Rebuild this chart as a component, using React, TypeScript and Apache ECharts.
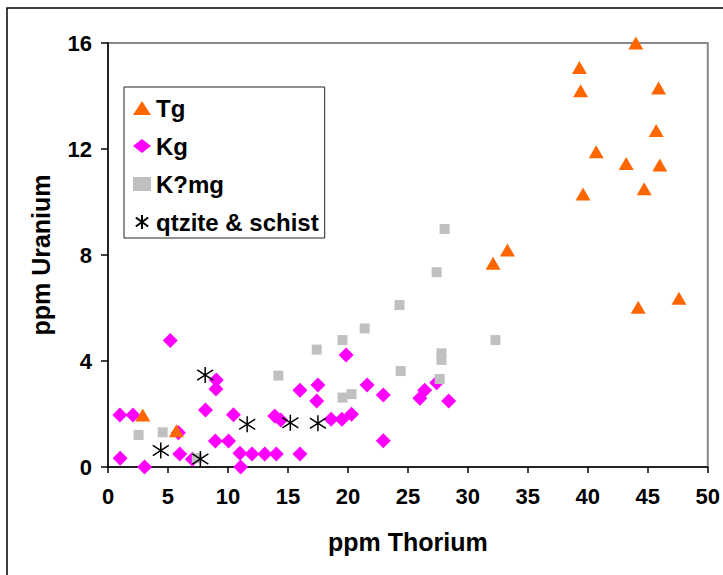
import React, { useEffect, useRef } from "react";
import * as echarts from "echarts";

const seriesNames = ["Tg", "Kg", "K?mg", "qtzite & schist"];

const tgData: [number, number][] = [
  [44.0, 16.0], [39.3, 15.08], [39.4, 14.2], [45.9, 14.3], [45.7, 12.7],
  [40.7, 11.9], [43.2, 11.45], [46.0, 11.4], [44.7, 10.5], [39.6, 10.3],
  [33.3, 8.19], [32.1, 7.69], [47.6, 6.37], [44.2, 6.03], [2.9, 1.96], [5.7, 1.37],
];

const kgData: [number, number][] = [
  [5.19, 4.77], [0.99, 1.96], [2.08, 1.96], [1.01, 0.33], [3.05, 0.0],
  [5.87, 1.29], [5.98, 0.49], [7.03, 0.29], [8.13, 2.15], [9.03, 3.28],
  [9.0, 2.94], [8.95, 0.98], [10.05, 0.98], [10.46, 1.97], [11.0, 0.52],
  [11.06, 0.0], [12.0, 0.49], [13.07, 0.49], [14.03, 0.49], [13.9, 1.92],
  [14.4, 1.77], [16.0, 2.9], [16.0, 0.49], [17.5, 3.09], [17.4, 2.49],
  [18.6, 1.8], [19.5, 1.8], [20.3, 1.99], [19.85, 4.23], [21.6, 3.09],
  [22.95, 2.72], [22.95, 0.99], [26.4, 2.9], [26.0, 2.59], [27.4, 3.18],
  [28.4, 2.49],
];

const kmgData: [number, number][] = [
  [2.55, 1.21], [4.56, 1.31], [7.4, 0.33], [14.2, 3.45], [17.4, 4.43],
  [19.55, 4.79], [19.55, 2.62], [20.3, 2.75], [21.4, 5.23], [24.3, 6.11],
  [24.4, 3.62], [27.4, 7.35], [28.06, 8.98], [27.8, 4.29], [27.8, 4.04],
  [27.65, 3.32], [32.3, 4.79],
];

const qsData: [number, number][] = [
  [4.4, 0.62], [7.7, 0.3], [8.1, 3.47], [11.6, 1.61], [15.2, 1.67], [17.5, 1.65],
];

const xMin = 0;
const xMax = 50;
const xStep = 5;
const yMin = 0;
const yMax = 16;
const yStep = 4;

const FONT = "'Liberation Sans', Arial, sans-serif";
const STAR = "path://M5,0L5,10M0.6,1.8L9.4,8.2M0.6,8.2L9.4,1.8";

export default function App() {
  const ref = useRef<HTMLDivElement>(null);
  useEffect(() => {
    if (!ref.current) return;
    const chart = echarts.init(ref.current, null, { renderer: "svg" });
    chart.setOption({
      animation: false,
      backgroundColor: "#ffffff",
      textStyle: { fontFamily: FONT },
      graphic: [
        {
          type: "rect",
          shape: { x: 7, y: 8, width: 900, height: 900 },
          style: { fill: "none", stroke: "#000", lineWidth: 1.5 },
          silent: true,
          z: 0,
        },
      ],
      grid: {
        left: 108,
        top: 43,
        right: 8,
        bottom: 108,
        show: true,
        borderColor: "#888888",
        borderWidth: 2,
        backgroundColor: "transparent",
      },
      legend: {
        orient: "vertical",
        left: 124,
        top: 87,
        data: seriesNames,
        itemWidth: 18,
        itemHeight: 14,
        itemGap: 14,
        padding: [9, 6, 4, 9],
        borderColor: "#222",
        borderWidth: 1,
        backgroundColor: "#fff",
        textStyle: { fontFamily: FONT, fontWeight: "bold", fontSize: 24, color: "#000" },
      },
      xAxis: {
        type: "value",
        min: xMin,
        max: xMax,
        interval: xStep,
        name: "ppm Thorium",
        nameLocation: "middle",
        nameGap: 62,
        nameTextStyle: { fontFamily: FONT, fontWeight: "bold", fontSize: 25, color: "#000" },
        axisLine: { show: true, onZero: false, lineStyle: { color: "#000", width: 1.5 } },
        axisTick: { show: true, inside: false, length: 6, lineStyle: { color: "#000", width: 1.5 } },
        axisLabel: { margin: 18, fontFamily: FONT, fontWeight: "bold", fontSize: 22, color: "#000" },
        splitLine: { show: false },
      },
      yAxis: {
        type: "value",
        min: yMin,
        max: yMax,
        interval: yStep,
        name: "ppm Uranium",
        nameLocation: "middle",
        nameGap: 55,
        nameRotate: 90,
        nameTextStyle: { fontFamily: FONT, fontWeight: "bold", fontSize: 25, color: "#000" },
        axisLine: { show: true, onZero: false, lineStyle: { color: "#000", width: 1.5 } },
        axisTick: { show: true, inside: false, length: 7, lineStyle: { color: "#000", width: 1.5 } },
        axisLabel: { margin: 16, fontFamily: FONT, fontWeight: "bold", fontSize: 22, color: "#000" },
        splitLine: { show: false },
      },
      series: [
        {
          name: "Kg",
          type: "scatter",
          data: kgData,
          symbol: "diamond",
          symbolSize: 15,
          itemStyle: { color: "#FF00FF", opacity: 1 },
          z: 2,
        },
        {
          name: "Tg",
          type: "scatter",
          data: tgData,
          symbol: "triangle",
          symbolSize: [15, 13],
          itemStyle: { color: "#FF6600", opacity: 1 },
          z: 3,
        },
        {
          name: "K?mg",
          type: "scatter",
          data: kmgData,
          symbol: "rect",
          symbolSize: 10,
          itemStyle: { color: "#C0C0C0", opacity: 1 },
          z: 4,
        },
        {
          name: "qtzite & schist",
          type: "scatter",
          data: qsData,
          symbol: STAR,
          symbolSize: 16,
          itemStyle: { color: "none", borderColor: "#000", borderWidth: 1.5, opacity: 1 },
          z: 5,
        },
      ],
    });
    return () => chart.dispose();
  }, []);
  return <div ref={ref} style={{ width: 723, height: 575, position: "absolute", left: 0, top: 0 }} />;
}
